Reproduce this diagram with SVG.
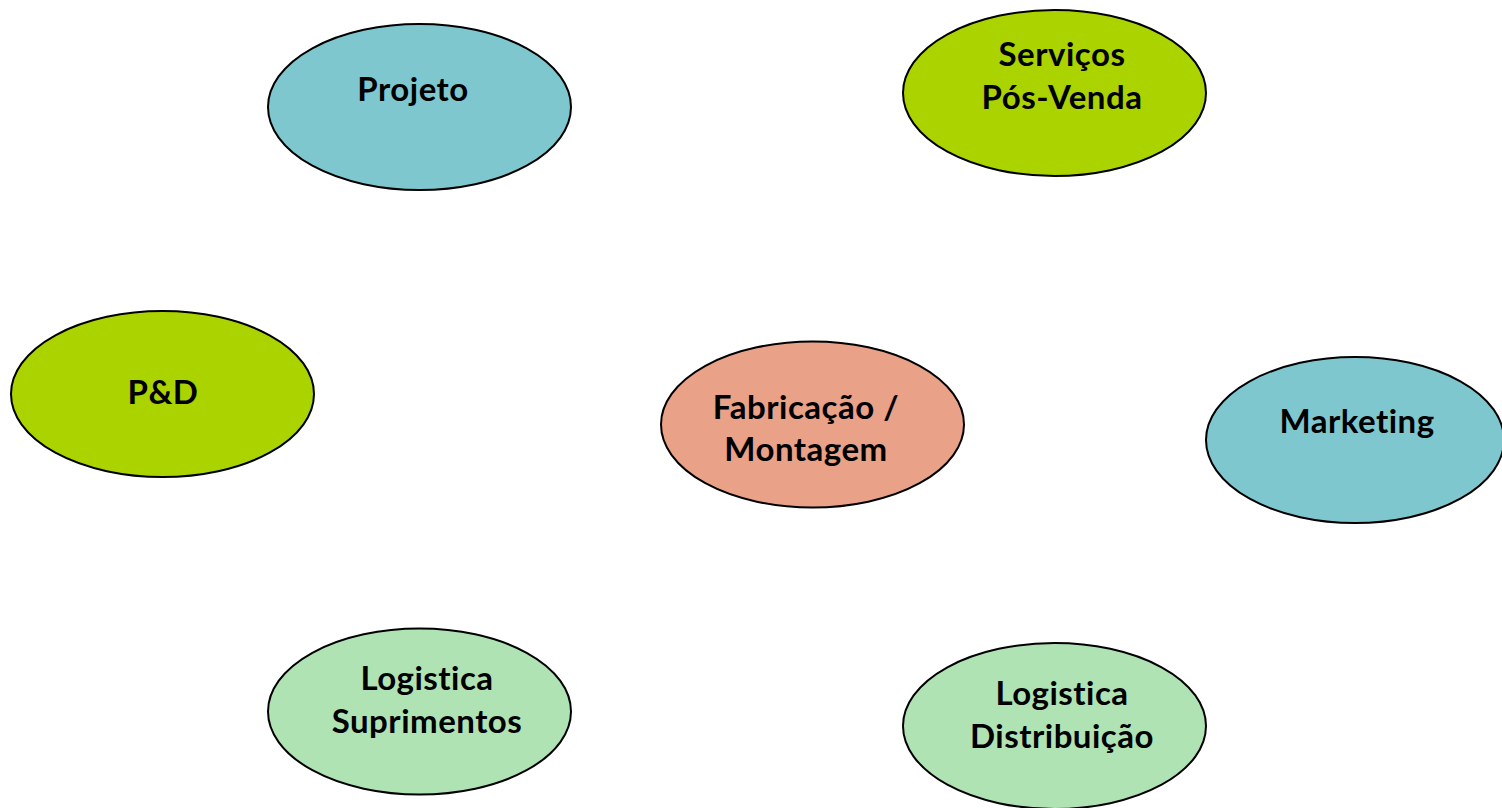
<svg xmlns="http://www.w3.org/2000/svg" width="1502" height="808" viewBox="0 0 1502 808">
<style>
ellipse{stroke:#000;stroke-width:2}
.teal{fill:#7FC7CE}.lime{fill:#AAD300}.salmon{fill:#E9A188}.mint{fill:#AFE3B4}
text{font-family:Lato,"Liberation Sans",sans-serif;font-weight:bold;font-size:33px;letter-spacing:0.5px;fill:#000;text-anchor:middle}
</style>
<rect width="1502" height="808" fill="#fff"/>
<g id="connectors"></g>
<g id="projeto"><ellipse class="teal" cx="419.5" cy="107" rx="151.5" ry="83"/><text x="413" y="101">Projeto</text></g>
<g id="servicos"><ellipse class="lime" cx="1054.5" cy="93" rx="151.5" ry="83"/><text x="1062" y="66">Serviços</text><text x="1062" y="109">Pós-Venda</text></g>
<g id="pd"><ellipse class="lime" cx="162.5" cy="394" rx="151.5" ry="83"/><text x="163" y="404">P&amp;D</text></g>
<g id="fabricacao"><ellipse class="salmon" cx="812.5" cy="424.5" rx="151.5" ry="83"/><text x="806" y="419">Fabricação /</text><text x="806" y="461">Montagem</text></g>
<g id="marketing"><ellipse class="teal" cx="1355" cy="440" rx="149" ry="83"/><text x="1357" y="433">Marketing</text></g>
<g id="logsup"><ellipse class="mint" cx="419.5" cy="711.5" rx="151.5" ry="83"/><text x="427" y="690">Logistica</text><text x="427" y="733">Suprimentos</text></g>
<g id="logdist"><ellipse class="mint" cx="1054.5" cy="726" rx="151.5" ry="83"/><text x="1062" y="705">Logistica</text><text x="1062" y="748">Distribuição</text></g>
</svg>
